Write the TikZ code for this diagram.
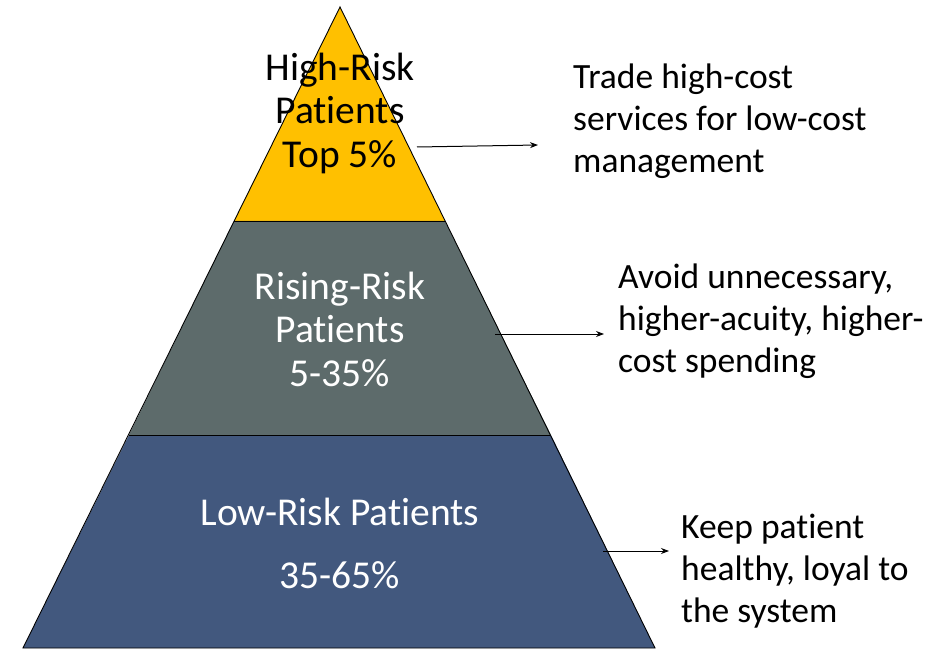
\documentclass[tikz,border=0pt]{standalone}
\usepackage{fontspec}
\setmainfont[Ligatures=NoCommon]{Carlito}
\usetikzlibrary{arrows.meta}
\definecolor{topY}{HTML}{FFC000}
\definecolor{midG}{HTML}{5D6B6B}
\definecolor{lowB}{HTML}{42587E}
\tikzset{
  layer/.style={draw=black, line width=0.9pt, line join=miter},
  lbl/.style={font=\fontsize{39.5}{43.5}\selectfont, align=center, inner sep=0pt},
  side/.style={font=\fontsize{35.5}{42}\selectfont, align=left, anchor=west, inner sep=0pt},
  arr/.style={line width=1pt, -{Stealth[length=8pt,width=6pt]}}
}
\begin{document}
\begin{tikzpicture}[x=1pt,y=-1pt]
\useasboundingbox (0,0) rectangle (946,650);
% layers
\fill[topY] (340,7) -- (234,221) -- (445,221) -- cycle;
\fill[midG] (234,221) -- (129,435) -- (551,435) -- (445,221) -- cycle;
\fill[lowB] (129,435) -- (23,648) -- (655,648) -- (551,435) -- cycle;
\draw[layer] (340,7) -- (23,648) -- (655,648) -- cycle;
\draw[layer] (234,221) -- (445,221);
\draw[layer] (129,435) -- (551,435);
% pyramid labels
\node[lbl, text=black] (hi) at (340,113) {High-Risk\\Patients\\Top 5\%};
\node[lbl, text=white] (mid) at (340,329) {Rising-Risk\\Patients\\5-35\%};
\node[lbl, text=white] (lowA) at (340,512) {Low-Risk Patients};
\node[lbl, text=white] (lowB) at (340,575) {35-65\%};
% side notes
\node[side] (n1) at (573,121) {Trade high-cost\\services for low-cost\\management};
\node[side] (n2) at (618,321) {Avoid unnecessary,\\higher-acuity, higher-\\cost spending};
\node[side] (n3) at (681,571) {Keep patient\\healthy, loyal to\\the system};
% arrows
\coordinate (a1s) at (417,147);
\coordinate (a1e) at (538,145);
\coordinate (a2s) at (495,334);
\coordinate (a2e) at (604,334);
\coordinate (a3s) at (603,551);
\coordinate (a3e) at (669,551);
\draw[arr] (a1s) -- (a1e);
\draw[arr] (a2s) -- (a2e);
\draw[arr] (a3s) -- (a3e);
\end{tikzpicture}
\end{document}
